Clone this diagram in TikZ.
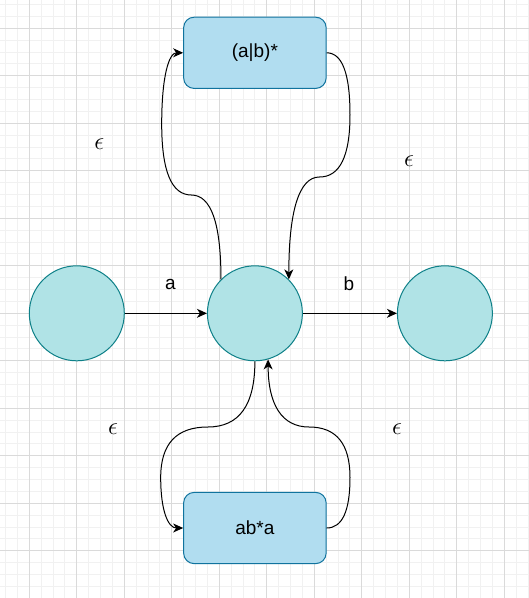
\documentclass[tikz,border=0pt]{standalone}
\usepackage{fontspec}
\setmainfont{Liberation Sans}
\usetikzlibrary{calc,arrows.meta}
\definecolor{gridminor}{HTML}{F1F1F1}
\definecolor{gridmajor}{HTML}{DADADA}
\definecolor{circfill}{HTML}{B0E3E6}
\definecolor{circdraw}{HTML}{0E8088}
\definecolor{boxfill}{HTML}{B1DDF0}
\definecolor{boxdraw}{HTML}{10739E}
\tikzset{
  state/.style={circle, fill=circfill, draw=circdraw, line width=1pt, minimum size=95pt, inner sep=0pt},
  rbox/.style={rectangle, rounded corners=10.5pt, fill=boxfill, draw=boxdraw, line width=1pt, minimum width=142.5pt, minimum height=71.25pt, inner sep=0pt, font=\fontsize{19}{22}\selectfont},
  edge/.style={line width=1pt, -{Stealth[length=10pt,width=9pt,inset=3pt]}},
  lbl/.style={inner sep=0pt, font=\fontsize{19}{22}\selectfont},
  elbl/.style={inner sep=0pt, font=\fontsize{23}{26}\selectfont},
}
\begin{document}
\begin{tikzpicture}[x=1pt,y=-1pt]
\useasboundingbox (0,0) rectangle (529,598);
\fill[white] (0,0) rectangle (529,598);
% grid
\foreach \i in {0,...,44} {
  \pgfmathsetmacro\xx{5.55+11.875*\i}
  \draw[gridminor, line width=1pt] (\xx,0) -- (\xx,598);
}
\foreach \i in {0,...,50} {
  \pgfmathsetmacro\yy{4.55+11.875*\i}
  \draw[gridminor, line width=1pt] (0,\yy) -- (529,\yy);
}
\foreach \i in {0,...,11} {
  \pgfmathsetmacro\xx{29.3+47.5*\i}
  \draw[gridmajor, line width=1pt] (\xx,0) -- (\xx,598);
}
\foreach \i in {0,...,12} {
  \pgfmathsetmacro\yy{28.3+47.5*\i}
  \draw[gridmajor, line width=1pt] (0,\yy) -- (529,\yy);
}
% nodes
\node[state] (s0) at (76.8,313.3) {};
\node[state] (s1) at (254.9,313.3) {};
\node[state] (s2) at (444.9,313.3) {};
\node[rbox] (top) at (254.9,52.8) {(a|b)*};
\node[rbox] (bot) at (254.9,528) {ab*a};
% straight edges
\draw[edge] (s0) -- (s1);
\draw[edge] (s1) -- (s2);
\node[lbl] (la) at (170.5,284) {a};
\node[lbl] (lb) at (349,284) {b};
% top-left: s1 -> top
\coordinate (a0) at (s1.135);
\coordinate (a1) at (a0 |- 0,195);
\coordinate (a2) at (161.7,195);
\coordinate (a4) at (top.west);
\coordinate (a3) at (a2 |- a4);
\coordinate (am12) at ($(a1)!0.5!(a2)$);
\coordinate (am23) at ($(a2)!0.5!(a3)$);
\draw[edge] (a0) .. controls ($(a0)!2/3!(a1)$) and ($(am12)!2/3!(a1)$) .. (am12)
  .. controls ($(am12)!2/3!(a2)$) and ($(am23)!2/3!(a2)$) .. (am23)
  .. controls ($(am23)!2/3!(a3)$) and ($(a4)!2/3!(a3)$) .. (a4);
% top-right: top -> s1
\coordinate (b0) at (top.east);
\coordinate (b1) at (350,0 |- b0);
\coordinate (b2) at (350,177);
\coordinate (b4) at (s1.45);
\coordinate (b3) at (b4 |- b2);
\coordinate (bm12) at ($(b1)!0.5!(b2)$);
\coordinate (bm23) at ($(b2)!0.5!(b3)$);
\draw[edge] (b0) .. controls ($(b0)!2/3!(b1)$) and ($(bm12)!2/3!(b1)$) .. (bm12)
  .. controls ($(bm12)!2/3!(b2)$) and ($(bm23)!2/3!(b2)$) .. (bm23)
  .. controls ($(bm23)!2/3!(b3)$) and ($(b4)!2/3!(b3)$) .. (b4);
% bottom-left: s1 -> bot
\coordinate (c0) at (s1.south);
\coordinate (c1) at (c0 |- 0,427);
\coordinate (c2) at (160.7,427);
\coordinate (c4) at (bot.west);
\coordinate (c3) at (c2 |- c4);
\coordinate (cm12) at ($(c1)!0.5!(c2)$);
\coordinate (cm23) at ($(c2)!0.5!(c3)$);
\draw[edge] (c0) .. controls ($(c0)!2/3!(c1)$) and ($(cm12)!2/3!(c1)$) .. (cm12)
  .. controls ($(cm12)!2/3!(c2)$) and ($(cm23)!2/3!(c2)$) .. (cm23)
  .. controls ($(cm23)!2/3!(c3)$) and ($(c4)!2/3!(c3)$) .. (c4);
% bottom-right: bot -> s1
\coordinate (d0) at (bot.east);
\coordinate (d1) at (350,0 |- d0);
\coordinate (d2) at (350,427);
\coordinate (d4) at (s1.-74.4);
\coordinate (d3) at (d4 |- d2);
\coordinate (dm12) at ($(d1)!0.5!(d2)$);
\coordinate (dm23) at ($(d2)!0.5!(d3)$);
\draw[edge] (d0) .. controls ($(d0)!2/3!(d1)$) and ($(dm12)!2/3!(d1)$) .. (dm12)
  .. controls ($(dm12)!2/3!(d2)$) and ($(dm23)!2/3!(d2)$) .. (dm23)
  .. controls ($(dm23)!2/3!(d3)$) and ($(d4)!2/3!(d3)$) .. (d4);
% epsilon labels
\node[elbl] (e1) at (99.3,144) {$\epsilon$};
\node[elbl] (e2) at (409,161) {$\epsilon$};
\node[elbl] (e3) at (113,429) {$\epsilon$};
\node[elbl] (e4) at (397,429) {$\epsilon$};
\end{tikzpicture}
\end{document}
